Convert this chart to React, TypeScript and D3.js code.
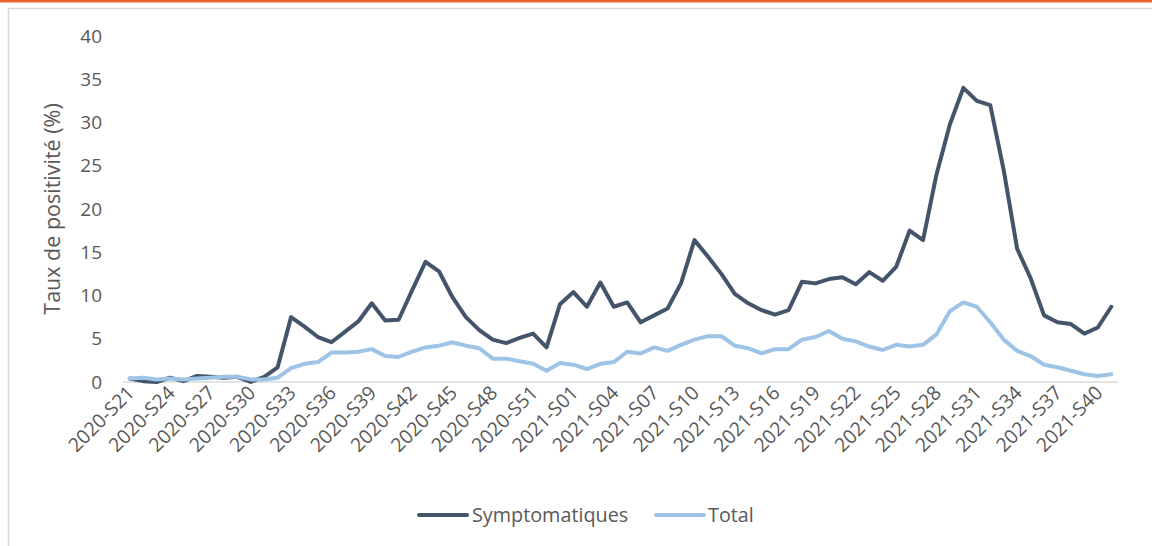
import * as d3 from 'd3'

const weeks = [
  '2020-S21', '2020-S22', '2020-S23', '2020-S24', '2020-S25', '2020-S26', '2020-S27', '2020-S28', '2020-S29', '2020-S30',
  '2020-S31', '2020-S32', '2020-S33', '2020-S34', '2020-S35', '2020-S36', '2020-S37', '2020-S38', '2020-S39', '2020-S40',
  '2020-S41', '2020-S42', '2020-S43', '2020-S44', '2020-S45', '2020-S46', '2020-S47', '2020-S48', '2020-S49', '2020-S50',
  '2020-S51', '2020-S52', '2020-S53', '2021-S01', '2021-S02', '2021-S03', '2021-S04', '2021-S05', '2021-S06', '2021-S07',
  '2021-S08', '2021-S09', '2021-S10', '2021-S11', '2021-S12', '2021-S13', '2021-S14', '2021-S15', '2021-S16', '2021-S17',
  '2021-S18', '2021-S19', '2021-S20', '2021-S21', '2021-S22', '2021-S23', '2021-S24', '2021-S25', '2021-S26', '2021-S27',
  '2021-S28', '2021-S29', '2021-S30', '2021-S31', '2021-S32', '2021-S33', '2021-S34', '2021-S35', '2021-S36', '2021-S37',
  '2021-S38', '2021-S39', '2021-S40', '2021-S41',
]

// taux de positivité (%) chez les symptomatiques
const symptomatiques = [
  0.4, 0.1, 0.0, 0.5, 0.1, 0.7, 0.6, 0.5, 0.6, 0.0,
  0.6, 1.7, 7.5, 6.4, 5.2, 4.6, 5.8, 7.0, 9.1, 7.1,
  7.2, 10.6, 13.9, 12.8, 9.8, 7.5, 6.0, 4.9, 4.5, 5.1,
  5.6, 4.0, 9.0, 10.4, 8.7, 11.5, 8.7, 9.2, 6.9, 7.7,
  8.5, 11.4, 16.4, 14.5, 12.5, 10.2, 9.1, 8.3, 7.8, 8.3,
  11.6, 11.4, 11.9, 12.1, 11.3, 12.7, 11.7, 13.3, 17.5, 16.4,
  24.0, 29.8, 34.0, 32.5, 32.0, 24.5, 15.4, 12.0, 7.7, 6.9,
  6.7, 5.6, 6.3, 8.7,
]

// taux de positivité (%) total
const total = [
  0.4, 0.5, 0.3, 0.4, 0.3, 0.4, 0.5, 0.6, 0.6, 0.3,
  0.3, 0.5, 1.6, 2.1, 2.3, 3.4, 3.4, 3.5, 3.8, 3.0,
  2.9, 3.5, 4.0, 4.2, 4.6, 4.2, 3.9, 2.7, 2.7, 2.4,
  2.1, 1.3, 2.2, 2.0, 1.5, 2.1, 2.3, 3.5, 3.3, 4.0,
  3.6, 4.3, 4.9, 5.3, 5.3, 4.2, 3.9, 3.3, 3.8, 3.8,
  4.9, 5.2, 5.9, 5.0, 4.7, 4.1, 3.7, 4.3, 4.1, 4.3,
  5.5, 8.2, 9.2, 8.7, 6.9, 4.9, 3.6, 3.0, 2.0, 1.7,
  1.3, 0.9, 0.7, 0.9,
]

const yTicks = [0, 5, 10, 15, 20, 25, 30, 35, 40]

const series = [
  { name: 'Symptomatiques', values: symptomatiques, color: '#44546A' },
  { name: 'Total', values: total, color: '#9DC3E6' },
]

const W = 1152
const H = 546
const FONT = "'Open Sans', sans-serif"
const TEXT = '#595959'

export default function App() {
  const x = d3.scalePoint<string>().domain(weeks).range([123, 1118]).padding(0.5)
  const y = d3.scaleLinear().domain([0, 40]).range([382, 36])

  const line = d3
    .line<number>()
    .x((_, i) => x(weeks[i]) as number)
    .y((d) => y(d))

  const shownWeeks = weeks.filter((_, i) => i % 3 === 0)

  return (
    <svg
      width={W}
      height={H}
      style={{ position: 'absolute', left: 0, top: 0, background: '#fff' }}
      fontFamily={FONT}
    >
      <rect x={0} y={0} width={W} height={2.5} fill="#E8652F" />
      <rect x={8.5} y={8.5} width={W + 20} height={H + 20} fill="none" stroke="#D9D9D9" strokeWidth={1.5} />

      {yTicks.map((t) => (
        <text key={t} x={102} y={y(t)} dy="0.35em" textAnchor="end" fontSize={19} fill={TEXT}>
          {t}
        </text>
      ))}

      <text
        transform={`translate(60,${y(20)}) rotate(-90)`}
        textAnchor="middle"
        fontSize={21.5}
        fill={TEXT}
      >
        Taux de positivité (%)
      </text>

      <line x1={123} x2={1118} y1={y(0)} y2={y(0)} stroke="#D9D9D9" strokeWidth={1.5} />

      {shownWeeks.map((w) => (
        <text
          key={w}
          transform={`translate(${(x(w) as number) + 6},${y(0) + 12}) rotate(-45)`}
          textAnchor="end"
          fontSize={19.5}
          fill={TEXT}
        >
          {w}
        </text>
      ))}

      {series.map((s) => (
        <path
          key={s.name}
          d={line(s.values) ?? ''}
          fill="none"
          stroke={s.color}
          strokeWidth={4}
          strokeLinejoin="round"
          strokeLinecap="round"
        />
      ))}

      <g fontSize={19.8} fill={TEXT}>
        <line x1={419} x2={467} y1={515} y2={515} stroke={series[0].color} strokeWidth={4} strokeLinecap="round" />
        <text x={472} y={515} dy="0.35em">{series[0].name}</text>
        <line x1={656} x2={704} y1={515} y2={515} stroke={series[1].color} strokeWidth={4} strokeLinecap="round" />
        <text x={708} y={515} dy="0.35em">{series[1].name}</text>
      </g>
    </svg>
  )
}
